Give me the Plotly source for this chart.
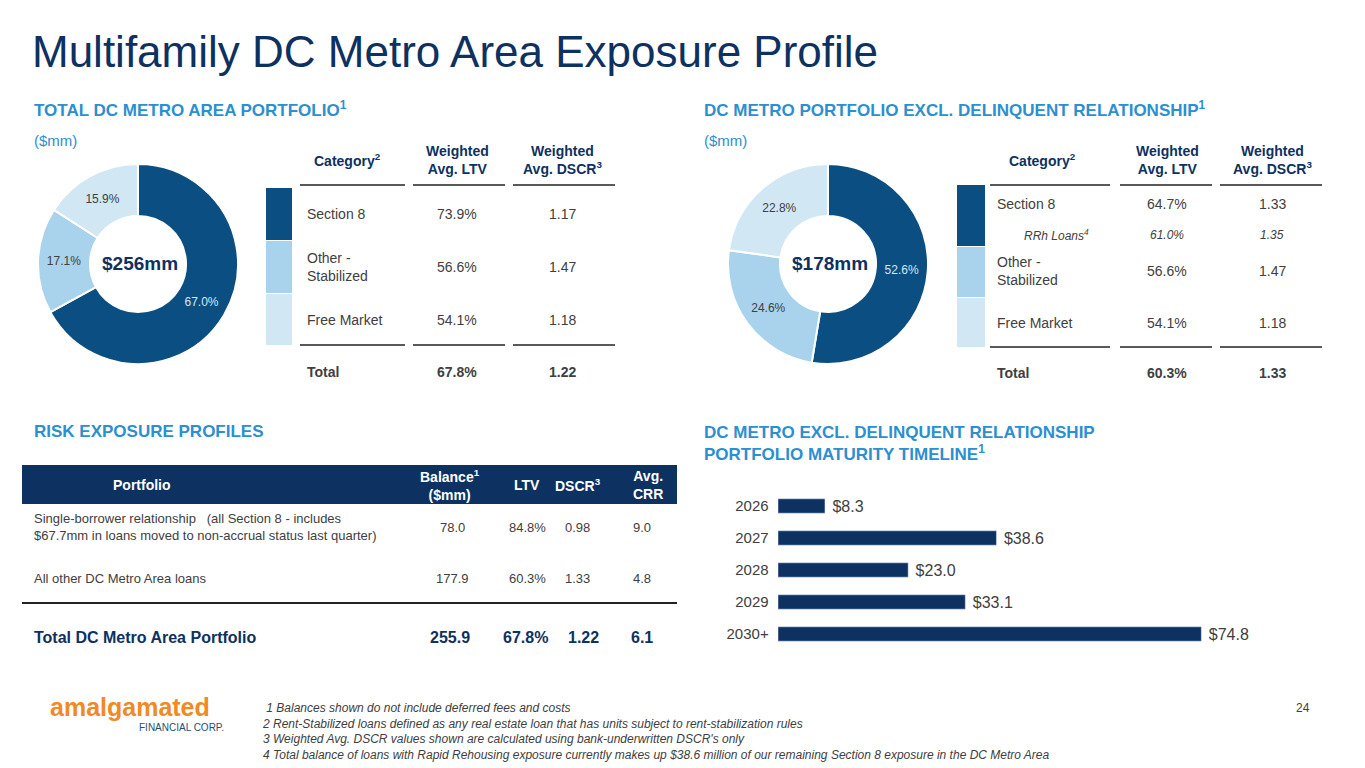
import plotly.graph_objects as go

W, H = 1365, 768
OFF = 8  # the page body margin

def px(x):
    return (x - OFF) / W

def py(y):
    return 1 - (y - OFF) / H

NAVY = '#0D3160'
DARK = '#0B4F82'
MID = '#A9D3EC'
LIGHT = '#D2E7F4'
HEAD = '#2C8FD0'
GREY = '#404040'

# data
cats = ['Section 8', 'Other - Stabilized', 'Free Market']
total_share = [67.0, 17.1, 15.9]
excl_share = [52.6, 24.6, 22.8]
total_ltv = ['73.9%', '56.6%', '54.1%']
total_dscr = ['1.17', '1.47', '1.18']
excl_ltv = ['64.7%', '56.6%', '54.1%']
excl_dscr = ['1.33', '1.47', '1.18']
years = ['2026', '2027', '2028', '2029', '2030+']
maturity = [8.3, 38.6, 23.0, 33.1, 74.8]
risk_rows = ['Single-borrower relationship   (all Section 8 - includes<br>$67.7mm in loans moved to non-accrual status last quarter)',
             'All other DC Metro Area loans']
risk_bal = ['78.0', '177.9']
risk_ltv = ['84.8%', '60.3%']
risk_dscr = ['0.98', '1.33']
risk_crr = ['9.0', '4.8']

fig = go.Figure()

def txt(x, y, s, size=14, color=GREY, anchor='center', bold=False, italic=False):
    if bold:
        s = f'<b>{s}</b>'
    if italic:
        s = f'<i>{s}</i>'
    fig.add_annotation(x=px(x + 2), y=py(y), xref='paper', yref='paper', text=s, showarrow=False,
                       xanchor=anchor, yanchor='middle',
                       align=anchor if anchor != 'center' else 'center',
                       font=dict(size=size, color=color))

def hline(x0, x1, y, w=1.5, color='#222222'):
    fig.add_shape(type='line', xref='paper', yref='paper', x0=px(x0), x1=px(x1),
                  y0=py(y), y1=py(y), line=dict(color=color, width=w))

def rect(x0, x1, y0, y1, color):
    fig.add_shape(type='rect', xref='paper', yref='paper', x0=px(x0), x1=px(x1),
                  y0=py(y1), y1=py(y0), fillcolor=color, line=dict(width=0))

for vals, x0, total in [(total_share, 38, '$256mm'), (excl_share, 728, '$178mm')]:
    fig.add_trace(go.Pie(
        values=vals, labels=cats, hole=0.48, sort=False, direction='clockwise',
        rotation=0, marker=dict(colors=[DARK, MID, LIGHT], line=dict(color='white', width=2)),
        texttemplate='%{value:.1f}%', textposition='inside', insidetextorientation='horizontal',
        textfont=dict(size=12, color=[LIGHT, GREY, GREY], family='Arial'),
        showlegend=False, hoverinfo='skip',
        domain=dict(x=[px(x0), px(x0 + 200)], y=[py(365), py(163)])))
    txt(x0 + 100, 263, total, size=19, color=NAVY, bold=True)

fig.add_trace(go.Bar(
    x=maturity, y=years, orientation='h', marker_color=NAVY, width=0.45,
    text=[f' ${v:.1f}' for v in maturity], textposition='outside', constraintext='none',
    textfont=dict(size=16, color=GREY), cliponaxis=False, showlegend=False))

fig.update_layout(
    width=W, height=H, margin=dict(l=0, r=0, t=0, b=0),
    paper_bgcolor='white', plot_bgcolor='white',
    font=dict(family='Arial', color=GREY),
    xaxis=dict(domain=[px(778), px(1310)], range=[0, 94], visible=False),
    yaxis=dict(domain=[py(650), py(490)], autorange='reversed', showgrid=False,
               showline=False, ticks='', tickfont=dict(size=15, color=GREY), ticksuffix='  '),
)

# title and headings
txt(28, 52, 'Multifamily DC Metro Area Exposure Profile', size=44, color=NAVY, anchor='left')
txt(30, 109, 'TOTAL DC METRO AREA PORTFOLIO<sup>1</sup>', size=17, color=HEAD, anchor='left', bold=True)
txt(30, 140, '($mm)', size=15, color=HEAD, anchor='left')
txt(700, 109, 'DC METRO PORTFOLIO EXCL. DELINQUENT RELATIONSHIP<sup>1</sup>', size=17, color=HEAD, anchor='left', bold=True)
txt(700, 140, '($mm)', size=15, color=HEAD, anchor='left')
txt(30, 431, 'RISK EXPOSURE PROFILES', size=17, color=HEAD, anchor='left', bold=True)
txt(700, 443, 'DC METRO EXCL. DELINQUENT RELATIONSHIP<br>PORTFOLIO MATURITY TIMELINE<sup>1</sup>', size=17, color=HEAD, anchor='left', bold=True)

# table 1
for (y0, y1), c in zip([(188, 240), (241, 293), (294, 345)], [DARK, MID, LIGHT]):
    rect(266, 292, y0, y1, c)
txt(345, 160, 'Category<sup>2</sup>', size=14, color=NAVY, bold=True)
txt(455, 160, 'Weighted<br>Avg. LTV', size=14, color=NAVY, bold=True)
txt(560, 160, 'Weighted<br>Avg. DSCR<sup>3</sup>', size=14, color=NAVY, bold=True)
for seg in [(300, 405), (413, 505), (513, 615)]:
    hline(seg[0], seg[1], 185)
    hline(seg[0], seg[1], 345)
ys = [214, 267, 320]
names = ['Section 8', 'Other -<br>Stabilized', 'Free Market']
for y, n, l, d in zip(ys, names, total_ltv, total_dscr):
    txt(303, y, n, anchor='left')
    txt(455, y, l)
    txt(560, y, d)
txt(303, 372, 'Total', anchor='left', bold=True)
txt(455, 372, '67.8%', bold=True)
txt(560, 372, '1.22', bold=True)

# table 2
for (y0, y1), c in zip([(185, 246), (247, 297), (298, 347)], [DARK, MID, LIGHT]):
    rect(957, 985, y0, y1, c)
txt(1040, 160, 'Category<sup>2</sup>', size=14, color=NAVY, bold=True)
txt(1165, 160, 'Weighted<br>Avg. LTV', size=14, color=NAVY, bold=True)
txt(1270, 160, 'Weighted<br>Avg. DSCR<sup>3</sup>', size=14, color=NAVY, bold=True)
for seg in [(990, 1110), (1120, 1212), (1220, 1322)]:
    hline(seg[0], seg[1], 185)
    hline(seg[0], seg[1], 347)
ys = [204, 271, 323]
for y, n, l, d in zip(ys, names, excl_ltv, excl_dscr):
    txt(993, y, n, anchor='left')
    txt(1165, y, l)
    txt(1270, y, d)
txt(1020, 235, 'RRh Loans<sup>4</sup>', size=12, anchor='left', italic=True)
txt(1165, 235, '61.0%', size=12, italic=True)
txt(1270, 235, '1.35', size=12, italic=True)
txt(993, 373, 'Total', anchor='left', bold=True)
txt(1165, 373, '60.3%', bold=True)
txt(1270, 373, '1.33', bold=True)

# risk table
rect(22, 677, 465, 504, NAVY)
txt(140, 485, 'Portfolio', size=14, color='white', bold=True)
txt(448, 485, 'Balance<sup>1</sup><br>($mm)', size=14, color='white', bold=True)
txt(525, 485, 'LTV', size=14, color='white', bold=True)
txt(576, 485, 'DSCR<sup>3</sup>', size=14, color='white', bold=True)
txt(646, 485, 'Avg.<br>CRR', size=14, color='white', bold=True)
for y, n, b, l, d, c in zip([527, 578], risk_rows, risk_bal, risk_ltv, risk_dscr, risk_crr):
    txt(30, y, n, size=13, anchor='left')
    txt(450, y, b, size=13)
    txt(525, y, l, size=13)
    txt(575, y, d, size=13)
    txt(640, y, c, size=13)
hline(22, 677, 603, w=2)
txt(30, 637, 'Total DC Metro Area Portfolio', size=16, color=NAVY, anchor='left', bold=True)
txt(448, 637, '255.9', size=16, color=NAVY, bold=True)
txt(523, 637, '67.8%', size=16, color=NAVY, bold=True)
txt(581, 637, '1.22', size=16, color=NAVY, bold=True)
txt(640, 637, '6.1', size=16, color=NAVY, bold=True)

# footer
txt(46, 707, '<b>amalgamated</b>', size=25, color='#F08A24', anchor='left')
txt(224, 727, 'FINANCIAL CORP.', size=10, color='#1F4E79', anchor='right')
txt(258, 731, ' 1 Balances shown do not include deferred fees and costs<br>'
    '2 Rent-Stabilized loans defined as any real estate loan that has units subject to rent-stabilization rules<br>'
    '3 Weighted Avg. DSCR values shown are calculated using bank-underwritten DSCR\'s only<br>'
    '4 Total balance of loans with Rapid Rehousing exposure currently makes up $38.6 million of our remaining Section 8 exposure in the DC Metro Area',
    size=12, anchor='left', italic=True)
txt(1310, 708, '24', size=12, anchor='right')

fig.write_html('out.html')
